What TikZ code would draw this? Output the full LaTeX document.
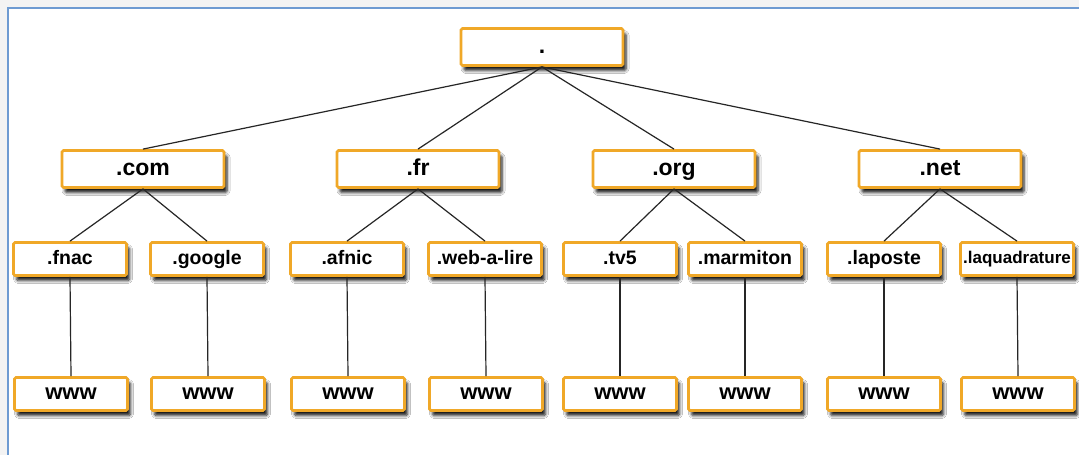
\documentclass[tikz,border=0pt]{standalone}
\usepackage{fontspec}
\setmainfont{Liberation Sans}
\usetikzlibrary{shadows,shadows.blur}
\definecolor{boxorange}{RGB}{240,168,40}
\definecolor{frameblue}{RGB}{110,155,210}
\definecolor{outergray}{RGB}{243,243,243}
\tikzset{
  x=1pt,y=-1pt,
  dnsbox/.style={draw=boxorange, line width=2.8pt, fill=white, rounded corners=1.5pt,
    blur shadow={shadow xshift=3pt, shadow yshift=-5pt, shadow blur steps=5, shadow blur radius=3pt, shadow opacity=90},
    inner sep=0pt, text=black},
  tldbox/.style={dnsbox, minimum width=162pt, minimum height=37pt, text height=16.6pt, text depth=4.6pt, font=\bfseries\fontsize{23}{26}\selectfont},
  subbox/.style={dnsbox, minimum width=113pt, minimum height=33pt, text height=14pt, text depth=3.9pt, font=\bfseries\fontsize{19.5}{22}\selectfont},
  smallsub/.style={subbox, text height=12.2pt, text depth=3.4pt, font=\bfseries\fontsize{17}{20}\selectfont},
  wwwbox/.style={dnsbox, minimum width=113pt, minimum height=33pt, text height=15.8pt, text depth=4.4pt, font=\bfseries\fontsize{22}{24}\selectfont},
  link/.style={draw=black!85, line width=1.2pt}
}
\begin{document}
\begin{tikzpicture}
\useasboundingbox (0,0) rectangle (1079,455);
\fill[outergray] (0,0) rectangle (1079,455);
\fill[white] (8,8) rectangle (1079,455);
\draw[frameblue, line width=2pt] (8,455) -- (8,8) -- (1079,8);

\node[tldbox] (root) at (542,47) {.};
\node[tldbox] (com) at (143,169) {.com};
\node[tldbox] (fr) at (418,169) {.fr};
\node[tldbox] (org) at (674,169) {.org};
\node[tldbox] (net) at (940,169) {.net};

\node[subbox] (fnac) at (70,259) {.fnac};
\node[subbox] (google) at (207,259) {.google};
\node[subbox] (afnic) at (347,259) {.afnic};
\node[subbox] (weba) at (485,259) {.web-a-lire};
\node[subbox] (tv5) at (620,259) {.tv5};
\node[subbox] (marm) at (745,259) {.marmiton};
\node[subbox] (lapo) at (884,259) {.laposte};
\node[smallsub] (laqu) at (1017,259) {.laquadrature};

\foreach \n/\x in {w1/71,w2/208,w3/348,w4/486,w5/620,w6/745,w7/884,w8/1018}
  \node[wwwbox] (\n) at (\x,394) {www};

\draw[link] (root.south) -- (com.north);
\draw[link] (root.south) -- (fr.north);
\draw[link] (root.south) -- (org.north);
\draw[link] (root.south) -- (net.north);
\draw[link] (com.south) -- (fnac.north);
\draw[link] (com.south) -- (google.north);
\draw[link] (fr.south) -- (afnic.north);
\draw[link] (fr.south) -- (weba.north);
\draw[link] (org.south) -- (tv5.north);
\draw[link] (org.south) -- (marm.north);
\draw[link] (net.south) -- (lapo.north);
\draw[link] (net.south) -- (laqu.north);
\draw[link] (fnac.south) -- (w1.north);
\draw[link] (google.south) -- (w2.north);
\draw[link] (afnic.south) -- (w3.north);
\draw[link] (weba.south) -- (w4.north);
\draw[link] (tv5.south) -- (w5.north);
\draw[link] (marm.south) -- (w6.north);
\draw[link] (lapo.south) -- (w7.north);
\draw[link] (laqu.south) -- (w8.north);
\end{tikzpicture}
\end{document}
